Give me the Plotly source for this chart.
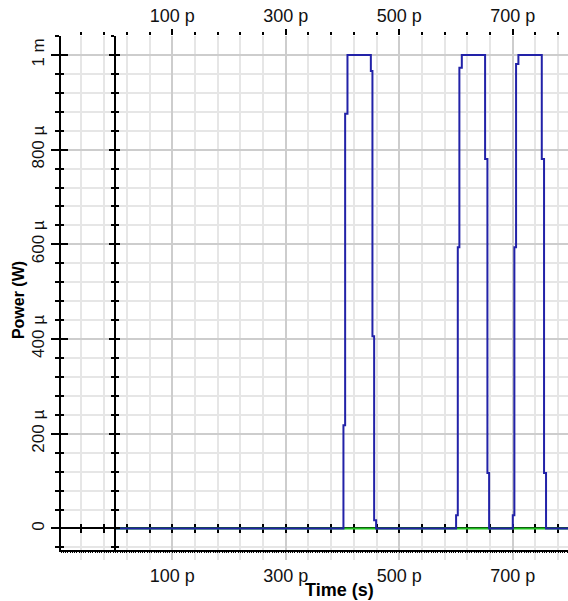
import plotly.graph_objects as go

# ---- data (time in ps, power in µW) ----
# blue signal samples; drawn vertical-then-horizontal between samples
time_ps = [0, 401.7, 404.7, 408.8, 450.0, 452.8, 455.8, 459.3,
           600.2, 603.2, 606.0, 610.3, 651.3, 655.4, 658.4,
           700.1, 702.9, 705.9, 710.0, 751.2, 755.2, 758.7, 800]
power_uW = [0, 0, 218, 876, 1000, 966, 406, 17.5,
            0, 28, 594, 973, 1000, 780, 117,
            0, 28, 594, 981, 1000, 780, 117, 0]

# green reference signal (flat zero)
ref_time_ps = [0, 800]
ref_power_uW = [0, 0]

x_tick_vals = [100, 300, 500, 700]
x_tick_text = ["100 p", "300 p", "500 p", "700 p"]
y_tick_vals = [0, 200, 400, 600, 800, 1000]
y_tick_text = ["0", "200 µ", "400 µ", "600 µ", "800 µ", "1 m"]

X_RANGE = [-96, 797.4]
Y_RANGE = [-45.5, 1040]

FONT = "Liberation Sans, Arial, sans-serif"
BLACK = "#000000"
MAJOR_GRID = "#cdcdcd"
MINOR_GRID = "#e6e6e6"

fig = go.Figure()
fig.add_trace(go.Scatter(x=ref_time_ps, y=ref_power_uW, mode="lines",
                         line=dict(color="#1fc01f", width=2),
                         hoverinfo="skip", showlegend=False))
fig.add_trace(go.Scatter(x=time_ps, y=power_uW, mode="lines",
                         line=dict(color="#2222a8", width=2, shape="vh"),
                         hoverinfo="skip", showlegend=False))

# dummy traces so that the overlay axes exist
for xa in ["x2", "x3", "x4", "x5"]:
    fig.add_trace(go.Scatter(x=[None], y=[None], xaxis=xa, yaxis="y",
                             mode="lines", showlegend=False, hoverinfo="skip"))
for ya in ["y2", "y3", "y4"]:
    fig.add_trace(go.Scatter(x=[None], y=[None], xaxis="x", yaxis=ya,
                             mode="lines", showlegend=False, hoverinfo="skip"))

x_zero_pos = (0 - X_RANGE[0]) / (X_RANGE[1] - X_RANGE[0])
y_zero_pos = (0 - Y_RANGE[0]) / (Y_RANGE[1] - Y_RANGE[0])

blank_x = dict(range=X_RANGE, showgrid=False, zeroline=False,
               showticklabels=False, fixedrange=True)
blank_y = dict(range=Y_RANGE, showgrid=False, zeroline=False,
               showticklabels=False, fixedrange=True)

fig.update_layout(
    width=568, height=601,
    margin=dict(l=61, r=0, t=36, b=51),
    paper_bgcolor="white", plot_bgcolor="white",
    font=dict(family=FONT, color="#111111"),
    xaxis=dict(
        range=X_RANGE, domain=[0, 1], anchor="y", side="bottom",
        showline=True, linecolor=BLACK, linewidth=2, zeroline=False,
        tickmode="array", tickvals=x_tick_vals, ticktext=x_tick_text,
        ticks="outside", ticklen=8, tickwidth=2, tickcolor=MAJOR_GRID,
        tickfont=dict(size=18, family=FONT, color="#111111"),
        ticklabelstandoff=0,
        showgrid=True, gridcolor=MAJOR_GRID, gridwidth=2,
        minor=dict(tickmode="linear", tick0=100, dtick=40, ticks="outside",
                   ticklen=8, tickwidth=2, tickcolor=MINOR_GRID,
                   showgrid=True, gridcolor=MINOR_GRID, gridwidth=2),
        fixedrange=True,
    ),
    xaxis2=dict(
        range=X_RANGE, overlaying="x", anchor="y", side="top",
        showline=False, zeroline=False, showgrid=False,
        tickmode="array", tickvals=x_tick_vals, ticktext=x_tick_text,
        ticks="outside", ticklen=6, tickwidth=2, tickcolor=BLACK,
        tickfont=dict(size=18, family=FONT, color="#111111"),
        minor=dict(tickmode="linear", tick0=100, dtick=40, ticks="outside",
                   ticklen=3, tickwidth=2, tickcolor=BLACK, showgrid=False),
        fixedrange=True,
    ),
    xaxis3=dict(blank_x, overlaying="x", anchor="y", side="bottom",
                showline=False, tickmode="linear", tick0=0, dtick=4,
                ticks="outside", ticklen=2, tickwidth=1, tickcolor=BLACK),
    xaxis4=dict(blank_x, overlaying="x", anchor="free", position=y_zero_pos,
                side="bottom", showline=True, linecolor=BLACK, linewidth=2,
                layer="below traces",
                tickmode="linear", tick0=100, dtick=40, ticks="outside",
                ticklen=4, tickwidth=2, tickcolor=BLACK),
    xaxis5=dict(blank_x, overlaying="x", anchor="free", position=y_zero_pos,
                side="bottom", showline=False, layer="below traces",
                tickmode="linear", tick0=100, dtick=40, ticks="inside",
                ticklen=4, tickwidth=2, tickcolor=BLACK),
    yaxis=dict(
        range=Y_RANGE, domain=[0, 1], anchor="x", side="left",
        showline=True, linecolor=BLACK, linewidth=2, zeroline=False,
        tickmode="array", tickvals=y_tick_vals, ticktext=y_tick_text,
        tickangle=-90,
        ticks="outside", ticklen=8, tickwidth=2, tickcolor=BLACK,
        tickfont=dict(size=17, family=FONT, color="#111111"),
        showgrid=True, gridcolor=MAJOR_GRID, gridwidth=2,
        minor=dict(tickmode="linear", tick0=0, dtick=40, ticks="outside",
                   ticklen=4, tickwidth=2, tickcolor=BLACK,
                   showgrid=True, gridcolor=MINOR_GRID, gridwidth=2),
        fixedrange=True,
    ),
    yaxis2=dict(blank_y, overlaying="y", anchor="x", side="left",
                showline=False, tickmode="array", tickvals=y_tick_vals,
                ticks="inside", ticklen=7, tickwidth=2, tickcolor=BLACK,
                minor=dict(tickmode="linear", tick0=0, dtick=40,
                           ticks="inside", ticklen=3, tickwidth=2,
                           tickcolor=BLACK)),
    yaxis3=dict(blank_y, overlaying="y", anchor="free", position=x_zero_pos,
                side="left", showline=True, linecolor=BLACK, linewidth=2,
                tickmode="array", tickvals=y_tick_vals,
                ticks="outside", ticklen=5, tickwidth=2, tickcolor=BLACK,
                minor=dict(tickmode="linear", tick0=0, dtick=40,
                           ticks="outside", ticklen=3, tickwidth=2,
                           tickcolor=BLACK)),
    yaxis4=dict(blank_y, overlaying="y", anchor="free", position=x_zero_pos,
                side="left", showline=False,
                tickmode="array", tickvals=y_tick_vals,
                ticks="inside", ticklen=4, tickwidth=2, tickcolor=BLACK,
                minor=dict(tickmode="linear", tick0=0, dtick=40,
                           ticks="inside", ticklen=3, tickwidth=2,
                           tickcolor=BLACK)),
    annotations=[
        dict(text="<b>Time (s)</b>", xref="paper", yref="paper",
             x=0.55, y=-0.078, xanchor="center", yanchor="middle",
             showarrow=False, font=dict(size=18, family=FONT, color=BLACK)),
        dict(text="<b>Power (W)</b>", xref="paper", yref="paper",
             x=-0.085, y=0.486, xanchor="center", yanchor="middle",
             textangle=-90, showarrow=False,
             font=dict(size=16, family=FONT, color=BLACK)),
    ],
)

fig.write_html("out.html")
